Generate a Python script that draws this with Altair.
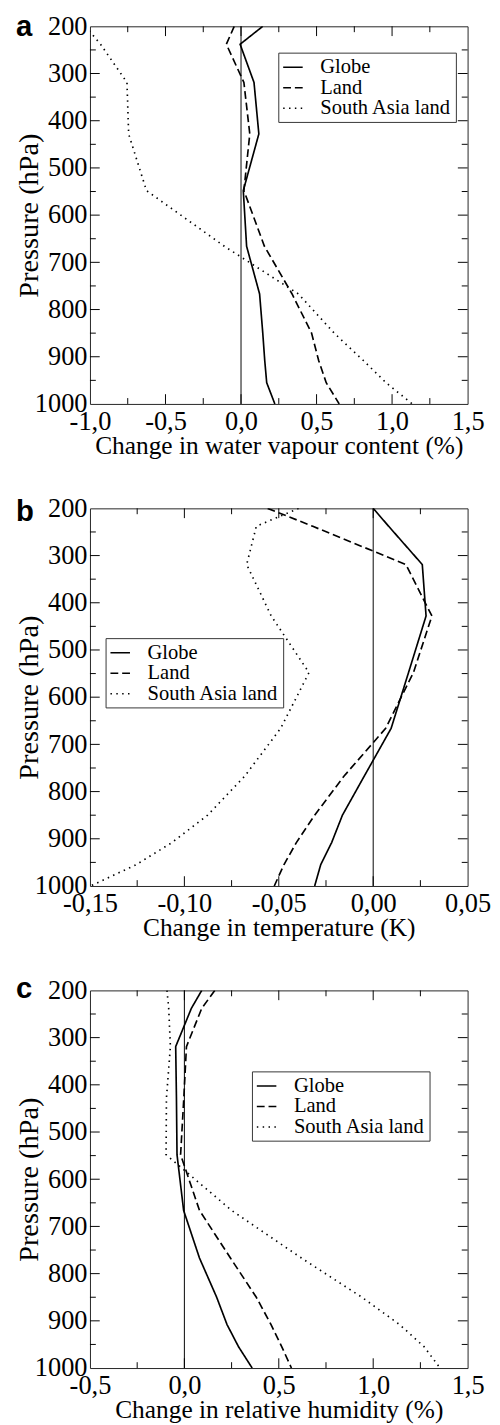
import altair as alt
import pandas as pd

SERIF = "Liberation Serif"
SANS = "Liberation Sans"

levels = [200, 238, 319, 428, 548, 666, 767, 850, 908, 955, 1000]
series = ["Globe", "Land", "South Asia land"]
dashes = [[1, 0], [8, 4], [1.5, 4.5]]

# panel a: water vapour content change (%)
wv_globe = [0.144, -0.006, 0.086, 0.118, 0.015, 0.037, 0.123, 0.144, 0.157, 0.170, 0.224]
wv_land = [-0.045, -0.097, 0.019, 0.058, 0.019, 0.155, 0.338, 0.467, 0.514, 0.564, 0.650]
wv_sa = [-1.03, -0.93, -0.755, -0.744, -0.626, -0.11, 0.38, 0.617, 0.81, 0.96, 1.134]

# panel b: temperature change (K)
t_globe = [0.0, 0.0082, 0.026, 0.028, 0.0187, 0.0095, -0.0047, -0.0163, -0.022, -0.0278, -0.031]
t_land = [-0.0559, -0.032, 0.0173, 0.0311, 0.0213, 0.0066, -0.0154, -0.031, -0.0407, -0.0473, -0.0524]
t_sa = [-0.0395, -0.0619, -0.067, -0.054, -0.034, -0.049, -0.068, -0.0877, -0.1066, -0.1256, -0.1497]

# panel c: relative humidity change (%)
rh_globe = [0.092, 0.037, -0.046, -0.042, -0.039, -0.004, 0.08, 0.171, 0.226, 0.287, 0.359]
rh_land = [0.161, 0.092, 0.011, -0.003, -0.02, 0.08, 0.244, 0.381, 0.459, 0.516, 0.567]
rh_sa = [-0.092, -0.083, -0.074, -0.095, -0.097, 0.25, 0.62, 0.94, 1.14, 1.27, 1.354]

# axes
a_major = [-1.0, -0.5, 0.0, 0.5, 1.0, 1.5]
a_minor = [-0.75, -0.25, 0.25, 0.75, 1.25]
a_labels = ["-1,0", "-0,5", "0,0", "0,5", "1,0", "1,5"]
b_major = [-0.15, -0.1, -0.05, 0.0, 0.05]
b_minor = [-0.125, -0.075, -0.025, 0.025]
b_labels = ["-0,15", "-0,10", "-0,05", "0,00", "0,05"]
c_major = [-0.5, 0.0, 0.5, 1.0, 1.5]
c_minor = [-0.25, 0.25, 0.75, 1.25]
c_labels = ["-0,5", "0,0", "0,5", "1,0", "1,5"]
p_major = [300, 400, 500, 600, 700, 800, 900]
p_minor = [250, 350, 450, 550, 650, 750, 850, 950]
p_labels = [200, 300, 400, 500, 600, 700, 800, 900, 1000]

W = 387
H = 387
MAJ = 10
MIN = 6


def panel(vals, xdom, xmaj, xmin, xlabels, xtitle, letter, letter_y, leg_x, leg_y):
    df = pd.DataFrame({
        "p": levels * 3,
        "v": vals[0] + vals[1] + vals[2],
        "s": [s for s in series for _ in levels],
    })
    xscale = alt.Scale(domain=xdom, nice=False, zero=False)
    yscale = alt.Scale(domain=[200, 1000], reverse=True, nice=False, zero=False)
    label_expr = ("[" + ",".join("'%s'" % l for l in xlabels) + "][indexof(["
                  + ",".join(repr(v) for v in xmaj) + "], datum.value)]")
    xaxis = alt.Axis(values=xmaj, labelExpr=label_expr, title=xtitle, ticks=False, tickSize=0,
                     domain=False, grid=False, labelFont=SERIF, labelFontSize=27,
                     labelColor="black", labelBaseline="alphabetic", labelPadding=26,
                     labelFlush=False, labelOverlap=False, titleFont=SERIF, titleFontSize=26,
                     titleFontWeight="normal", titleColor="black", titleX=W / 2, titleY=51,
                     titleBaseline="alphabetic", titleAlign="center")
    yaxis = alt.Axis(values=p_labels, format="d", title="Pressure (hPa)", ticks=False,
                     tickSize=0, domain=False, grid=False, labelFont=SERIF, labelFontSize=27,
                     labelColor="black", labelPadding=3, labelOverlap=False, titleFont=SERIF,
                     titleFontSize=29, titleFontWeight="normal", titleColor="black",
                     titleX=-54, titleY=H / 2, titleAngle=270, titleBaseline="alphabetic",
                     titleAlign="center")

    def X(f):
        return alt.X(f, scale=xscale, axis=xaxis)

    def Y(f):
        return alt.Y(f, scale=yscale, axis=yaxis)

    layers = []
    lines = alt.Chart(df).mark_line(color="black", strokeWidth=1.7, clip=True).encode(
        x=X("v:Q"),
        y=Y("p:Q"),
        strokeDash=alt.StrokeDash(
            "s:N", scale=alt.Scale(domain=series, range=dashes),
            legend=alt.Legend(title=None, orient="none", legendX=leg_x, legendY=leg_y,
                              labelFont=SERIF, labelFontSize=21, labelColor="black",
                              labelOffset=17, labelLimit=0, symbolType="stroke",
                              symbolSize=400, symbolStrokeWidth=1.7,
                              symbolStrokeColor="black", rowPadding=0, padding=4,
                              strokeColor="#333", fillColor="white")),
        order=alt.Order("p:Q"),
    )
    layers.append(lines)

    zero = alt.Chart(pd.DataFrame({"v": [0.0]})).mark_rule(color="black", strokeWidth=1).encode(
        x=X("v:Q"))
    layers.append(zero)

    xin = [v for v in xmaj if xdom[0] < v < xdom[1]]
    for vals_t, L in ((xin, MAJ), (xmin, MIN)):
        tdf = pd.DataFrame({"v": vals_t})
        for top in (True, False):
            layers.append(alt.Chart(tdf).mark_rule(color="black", strokeWidth=1).encode(
                x=X("v:Q"),
                y=alt.value(0 if top else H),
                y2=alt.value(L if top else H - L)))
    for vals_t, L in ((p_major, MAJ), (p_minor, MIN)):
        tdf = pd.DataFrame({"p": vals_t})
        for left in (True, False):
            layers.append(alt.Chart(tdf).mark_rule(color="black", strokeWidth=1).encode(
                y=Y("p:Q"),
                x=alt.value(0 if left else W),
                x2=alt.value(L if left else W - L)))

    lab = alt.Chart(pd.DataFrame({"l": [letter]})).mark_text(
        font=SANS, fontWeight="bold", fontSize=30, align="left", baseline="alphabetic",
        color="black").encode(text="l:N", x=alt.value(-75.7), y=alt.value(letter_y))
    layers.append(lab)

    return alt.layer(*layers).properties(width=W, height=H)


pa = panel([wv_globe, wv_land, wv_sa], [-1.0, 1.5], a_major, a_minor, a_labels,
           "Change in water vapour content (%)", "a", 10.0, 193, 27)
pb = panel([t_globe, t_land, t_sa], [-0.15, 0.05], b_major, b_minor, b_labels,
           "Change in temperature (K)", "b", 13.4, 16, 133)
pc = panel([rh_globe, rh_land, rh_sa], [-0.5, 1.5], c_major, c_minor, c_labels,
           "Change in relative humidity (%)", "c", 7.3, 166, 83)

chart = alt.vconcat(pa, pb, pc, spacing=107, bounds="flush").resolve_scale(
    x="independent", y="independent", strokeDash="independent"
).resolve_legend(strokeDash="independent").properties(
    padding={"left": 6, "top": -14, "right": 0, "bottom": 0}
).configure(font=SERIF).configure_axis(
    labelFont=SERIF, titleFont=SERIF, labelColor="black", titleColor="black"
).configure_legend(labelFont=SERIF).configure_view(stroke="#222", strokeWidth=1)

chart.save("out.html", embed_options={"renderer": "svg", "actions": False})
